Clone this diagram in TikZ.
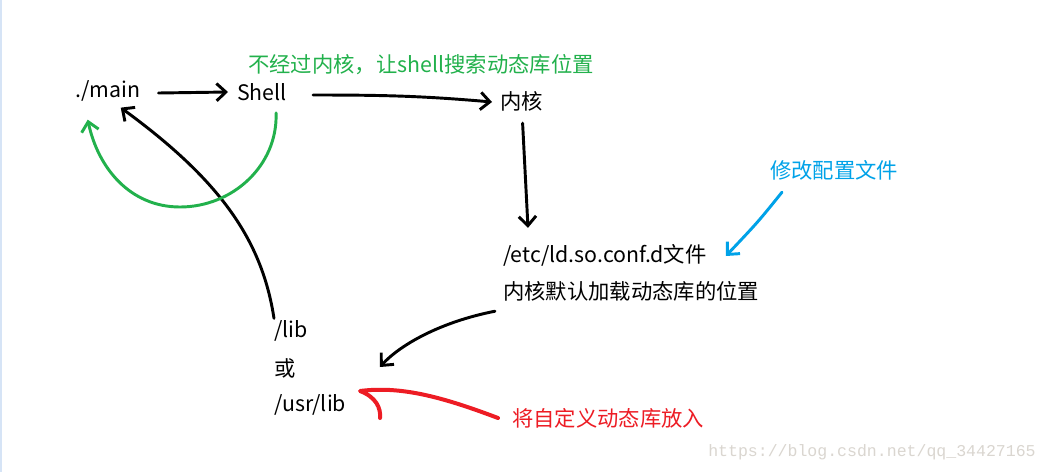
\documentclass[tikz,border=0pt]{standalone}
\usepackage{fontspec}
\setmainfont{Noto Sans CJK SC}
\newfontfamily\wmfont{Liberation Mono}
\usetikzlibrary{arrows.meta,calc}
\definecolor{pgreen}{RGB}{34,177,76}
\definecolor{pblue}{RGB}{0,162,232}
\definecolor{pred}{RGB}{237,28,36}
\definecolor{wmgray}{RGB}{218,214,208}
\definecolor{edgeblue}{RGB}{214,228,246}
\begin{document}
\begin{tikzpicture}[x=0.75pt, y=-0.75pt,
    lbl/.style={inner sep=0pt, anchor=west, font=\fontsize{16}{19}\selectfont},
    wm/.style={inner sep=0pt, anchor=west, text=wmgray, font=\wmfont\fontsize{12.4}{15}\selectfont},
    arr/.style={line width=2.2pt, line cap=round, line join=round,
                -{Straight Barb[length=7pt,width=13pt,line width=2.2pt]}},
  ]
    \fill[white] (0,0) rectangle (1050,472);
    \useasboundingbox (0,0) rectangle (1050,472);
    \draw[edgeblue, line width=1.5pt] (1,0) -- (1,472);

    % textos
    \node[lbl] (main)  at (75,91)  {./main};
    \node[lbl] (shell) at (237,92) {Shell};
    \node[lbl] (kern)  at (500,101) {内核};
    \node[lbl, text=pgreen] (gnote) at (248,65) {不经过内核，让shell搜索动态库位置};
    \node[lbl] (conf)  at (503,255) {/etc/ld.so.conf.d文件};
    \node[lbl] (kdef)  at (503,291) {内核默认加载动态库的位置};
    \node[lbl, text=pblue] (bnote) at (770,170) {修改配置文件};
    \node[lbl] (lib)   at (274,331) {/lib};
    \node[lbl] (or)    at (274,368) {或};
    \node[lbl] (usr)   at (274,405) {/usr/lib};
    \node[lbl, text=pred] (rnote) at (512,418) {将自定义动态库放入};
    \node[wm] (wmark) at (708,452) {https://blog.csdn.net/qq\_34427165};

    % flechas negras
    \draw[arr] ($(main.east)+(18,2)$) -- ($(shell.west)+(-9,0)$);
    \draw[arr] ($(shell.east)+(26,3)$) to[out=0, in=175] ($(kern.west)+(-8,1)$);
    \draw[arr] ($(kern.south)+(1,12)$) -- ($(conf.north west)+(25,-16)$);
    \draw[arr] ($(lib.north west)+(0,-2)$) .. controls (262,240) and (220,180) .. ($(main.south)+(13,6)$);
    \draw[arr] ($(kdef.south west)+(-8,10)$) .. controls (440,322) and (400,345) .. ($(or.east)+(84,-1)$);

    % flechas de color
    \draw[arr, pgreen] ($(shell.south)+(14,12)$) to[out=-88, in=0] (180,207) coordinate (gbot)
      to[out=180, in=-78] ($(main.south)+(-20,18)$);
    \draw[arr, pblue] ($(bnote.south west)+(12,12)$) .. controls (758,222) .. ($(conf.east)+(19,1)$);
    \draw[pred, line width=3pt, line cap=round, line join=round]
      ($(rnote.west)+(-14,0)$) .. controls (440,396) and (400,386) .. (360,391)
      .. controls (376,397) and (381,408) .. (380,418);
\end{tikzpicture}
\end{document}
